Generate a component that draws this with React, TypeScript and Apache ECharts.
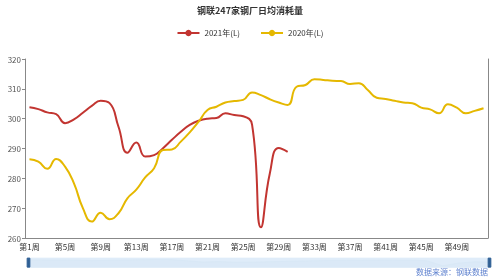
import React, { useEffect, useRef } from "react";
import * as echarts from "echarts";

const weeks: string[] = Array.from({ length: 52 }, (_, i) => `第${i + 1}周`);

const series2021: number[] = [
  303.8, 303.2, 302.1, 301.5, 298.5, 299.8, 302.0, 304.3, 306.0, 305.2,
  297.3, 288.6, 292.0, 287.3, 287.8, 290.1, 292.9, 295.6, 297.9, 299.3,
  300.0, 300.2, 301.8, 301.2, 300.8, 298.0, 263.6, 281.7, 290.2, 288.9,
];

const series2020: number[] = [
  286.4, 285.6, 283.2, 286.5, 283.9, 278.3, 270.0, 265.5, 268.5, 266.3,
  268.3, 273.3, 276.2, 280.3, 283.4, 289.5, 289.7, 292.3, 295.4, 299.0,
  302.9, 304.0, 305.4, 305.9, 306.3, 308.8, 307.9, 306.5, 305.4, 304.6,
  310.7, 311.3, 313.2, 313.0, 312.7, 312.6, 311.6, 311.9, 309.6, 307.0,
  306.6, 306.0, 305.4, 305.2, 303.7, 303.1, 301.8, 304.8, 303.7, 301.8,
  302.6, 303.5,
];

const seriesNames = ["2021年(L)", "2020年(L)"];
const colors = ["#c23531", "#e5b800"];
const titleText = "钢联247家钢厂日均消耗量";
const sourceText = "数据来源：钢联数据";

const FONT = "'Noto Sans CJK SC', 'Noto Sans', sans-serif";

export default function App() {
  const ref = useRef<HTMLDivElement>(null);
  useEffect(() => {
    if (!ref.current) return;
    const chart = echarts.init(ref.current, undefined, { renderer: "svg" });
    chart.setOption({
      animation: false,
      color: colors,
      textStyle: { fontFamily: FONT },
      title: {
        text: titleText,
        left: "center",
        top: 1,
        textStyle: { fontSize: 9, fontWeight: "bold", color: "#333", fontFamily: FONT },
      },
      legend: {
        top: 24,
        left: "center",
        itemWidth: 22,
        itemHeight: 8,
        itemGap: 20,
        textStyle: { fontSize: 8, color: "#333", fontFamily: FONT },
        data: seriesNames,
      },
      grid: {
        left: 25,
        right: 12,
        top: 59,
        bottom: 41,
        containLabel: false,
        outerBoundsMode: "none",
      },
      xAxis: {
        type: "category",
        data: weeks,
        boundaryGap: true,
        axisLine: { lineStyle: { color: "#888" } },
        axisTick: { lineStyle: { color: "#888" } },
        axisLabel: { interval: 3, fontSize: 8, color: "#333", margin: 4, fontFamily: FONT },
        splitLine: { show: false },
      },
      yAxis: [
        {
          type: "value",
          min: 260,
          max: 320,
          interval: 10,
          axisLine: { show: true, lineStyle: { color: "#888" } },
          axisTick: { show: true, length: 3, lineStyle: { color: "#888" } },
          axisLabel: { fontSize: 8, color: "#555", margin: 4, fontFamily: FONT },
          splitLine: { show: false },
        },
        {
          type: "value",
          position: "right",
          min: 260,
          max: 320,
          interval: 10,
          axisLine: { show: true, lineStyle: { color: "#888" } },
          axisTick: { show: false },
          axisLabel: { show: false },
          splitLine: { show: false },
        },
      ],
      dataZoom: [
        {
          type: "slider",
          xAxisIndex: 0,
          start: 0,
          end: 100,
          left: 25,
          right: 12,
          bottom: 12,
          height: 10,
          showDetail: false,
          brushSelect: false,
          moveHandleSize: 0,
          borderRadius: 0,
          handleIcon: "path://M0,0 L3,0 L3,10 L0,10 Z",
          handleSize: 9,
          handleStyle: { color: "#2f5f94", borderColor: "#2f5f94" },
          borderColor: "transparent",
          backgroundColor: "#e8f1fa",
          fillerColor: "rgba(214,232,247,0.5)",
          dataBackground: {
            lineStyle: { color: "#d4e3f0", width: 0.5 },
            areaStyle: { color: "#dbe8f4", opacity: 0.6 },
          },
          selectedDataBackground: {
            lineStyle: { color: "#d4e3f0", width: 0.5 },
            areaStyle: { color: "#dbe8f4", opacity: 0.6 },
          },
        },
      ],
      graphic: [
        {
          type: "text",
          right: 12,
          top: 267,
          style: {
            text: sourceText,
            fontSize: 8,
            fill: "#5f82cf",
            fontFamily: FONT,
          },
        },
      ],
      series: [
        {
          name: seriesNames[0],
          type: "line",
          data: series2021,
          smooth: true,
          symbol: "circle",
          symbolSize: 7,
          showSymbol: false,
          lineStyle: { width: 2, color: colors[0] },
          itemStyle: { color: colors[0] },
        },
        {
          name: seriesNames[1],
          type: "line",
          data: series2020,
          smooth: true,
          symbol: "circle",
          symbolSize: 7,
          showSymbol: false,
          lineStyle: { width: 2, color: colors[1] },
          itemStyle: { color: colors[1] },
        },
      ],
    });
    return () => chart.dispose();
  }, []);
  return (
    <div
      ref={ref}
      style={{ position: "fixed", left: 0, top: 0, width: 500, height: 279 }}
    />
  );
}
